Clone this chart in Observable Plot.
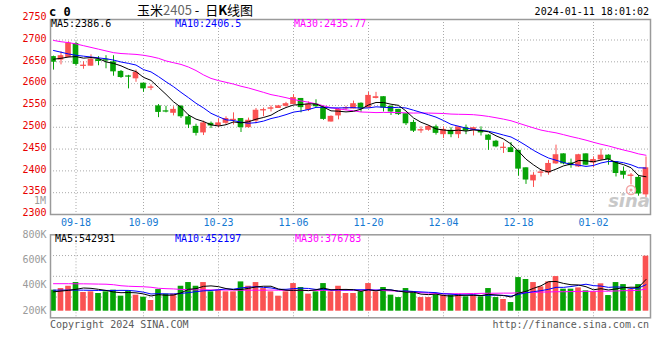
<!DOCTYPE html>
<html><head><meta charset="utf-8">
<script src="https://cdn.jsdelivr.net/npm/d3@7"></script>
<script src="https://cdn.jsdelivr.net/npm/@observablehq/plot@0.6"></script>
<style>
body{margin:0;background:#fff;}
#chart{position:relative;width:660px;height:360px;overflow:hidden;background:#fff;}
#chart svg{position:absolute;left:0;top:0;}
</style></head><body><div id="chart"></div>
<script>
// ---- data ----
const dates = ["09-13","09-14","09-15","09-18","09-19","09-20","09-21","09-22","09-25","09-26","09-27","09-28",
"10-09","10-10","10-11","10-12","10-13","10-16","10-17","10-18","10-19","10-20","10-23","10-24","10-25","10-26","10-27",
"10-30","10-31","11-01","11-02","11-03","11-06","11-07","11-08","11-09","11-10","11-13","11-14","11-15","11-16","11-17",
"11-20","11-21","11-22","11-23","11-24","11-27","11-28","11-29","11-30","12-01","12-04","12-05","12-06","12-07","12-08",
"12-11","12-12","12-13","12-14","12-15","12-18","12-19","12-20","12-21","12-22","12-25","12-26","12-27","12-28","12-29",
"01-02","01-03","01-04","01-05","01-08","01-09","01-10","01-11"];
const open = [2662,2654,2660,2692,2640,2640,2655,2656,2650,2628,2618,2611,2601,2590,2549,2538,2532,2548,2524,2502,
2487,2509,2503,2509,2516,2520,2499,2514,2538,2542,2543,2548,2552,2566,2539,2553,2546,2512,2526,2542,
2542,2555,2544,2566,2570,2548,2541,2531,2511,2492,2493,2501,2483,2493,2483,2499,2493,2493,2482,2468,
2452,2453,2447,2407,2377,2395,2395,2416,2439,2418,2409,2439,2418,2425,2436,2421,2399,2388,2385,2345];
const high = [2663,2673,2696,2695,2650,2666,2662,2664,2664,2630,2619,2631,2601,2597,2552,2548,2547,2550,2528,2507,
2514,2512,2519,2524,2533,2520,2521,2543,2544,2549,2550,2557,2575,2566,2558,2563,2547,2526,2543,2548,
2560,2556,2580,2580,2570,2549,2541,2531,2516,2501,2504,2505,2501,2499,2502,2505,2500,2501,2483,2470,
2464,2465,2447,2407,2396,2404,2424,2459,2439,2427,2438,2439,2432,2450,2437,2421,2409,2394,2390,2432];
const low = [2631,2643,2659,2640,2633,2640,2641,2634,2617,2612,2588,2603,2580,2584,2522,2533,2526,2520,2497,2480,
2481,2497,2499,2505,2505,2488,2498,2508,2524,2535,2543,2546,2552,2533,2536,2545,2516,2512,2517,2538,
2542,2534,2544,2565,2535,2527,2527,2504,2488,2486,2491,2482,2474,2476,2474,2483,2480,2480,2447,2453,
2440,2442,2388,2369,2362,2386,2390,2415,2414,2406,2408,2412,2407,2423,2413,2386,2381,2368,2342,2338];
const close = [2649,2664,2693,2644,2642,2656,2653,2654,2627,2614,2617,2626,2588,2592,2534,2537,2541,2524,2505,2486,
2510,2503,2510,2520,2518,2499,2516,2539,2540,2544,2549,2554,2568,2545,2553,2547,2518,2525,2541,2545,
2554,2542,2573,2570,2544,2535,2529,2508,2491,2494,2502,2486,2495,2483,2501,2491,2499,2487,2470,2455,
2454,2442,2404,2379,2390,2397,2417,2437,2416,2412,2437,2413,2426,2436,2426,2394,2390,2390,2347,2407];
const ma5 = [2656,2658,2661,2662,2658.4,2659.8,2657.6,2649.8,2646.4,2640.8,2633,2627.6,2614.4,2607.4,2591.4,2575.4,2558.4,2545.6,2528.2,2518.6,
2513.2,2505.6,2502.8,2505.8,2512.2,2510,2512.6,2518.4,2522.4,2527.6,2537.6,2545.2,2551,2552,2553.8,2553.4,2546.2,2537.6,2536.8,2535.2,
2536.6,2541.4,2551,2556.8,2556.6,2552.8,2550.2,2537.2,2521.4,2511.4,2504.8,2496.2,2493.6,2492,2493.4,2491.2,2493.8,2492.2,2489.6,2480.4,
2473,2461.6,2445,2426.8,2413.8,2402.4,2397.4,2404,2411.4,2415.8,2423.8,2423,2420.8,2424.8,2427.6,2419,2414.4,2407.2,2389.4,2386.6];
const ma10 = [2676,2672,2668,2665,2663,2661,2659,2657,2654,2649.6,2646.4,2642.6,2632.1,2626.9,2616.1,2604.2,2593,2580,2567.8,2555,
2544.3,2532,2524.2,2517,2515.4,2511.6,2509.1,2510.6,2514.1,2519.9,2523.8,2528.9,2534.7,2537.2,2540.7,2545.5,2545.7,2544.3,2544.4,2544.5,
2545,2543.8,2544.3,2546.8,2545.9,2544.7,2545.8,2544.1,2539.1,2534,2528.8,2523.2,2515.4,2506.7,2502.4,2498,2495,2492.9,2490.8,2486.9,
2482.1,2477.7,2468.6,2458.2,2447.1,2437.7,2429.5,2424.5,2419.1,2414.8,2413.1,2410.2,2412.4,2418.1,2421.7,2421.4,2418.7,2414,2407.1,2406.5];
const ma30 = [2699,2696,2694,2691,2687,2683,2679,2675,2671,2669,2668,2667,2665,2662,2658,2652,2648,2644,2638,2630,
2620,2612,2607,2603,2599,2594,2590,2585,2580,2574.8,2571.5,2567.8,2563.6,2560.3,2557.4,2553.7,2549.2,2544.9,2542.1,2539.8,
2537.7,2534.9,2534.4,2533.6,2534,2533.9,2533.5,2533,2532.5,2532.8,2532.5,2532,2531.5,2530.2,2529.7,2529.4,2528.8,2527.1,2524.8,2521.8,
2518.6,2514.9,2509.4,2503.9,2498.5,2493.5,2490.1,2487.2,2483,2478.6,2474.7,2470.4,2465.5,2461,2457.1,2452.4,2447.8,2443.8,2439,2435.77];
// volume, in thousands, as read against the panel's own axis
const volumeK = [365,378,396,425,347,352,339,352,365,318,360,326,310,284,370,334,334,396,425,396,
425,352,365,352,352,430,396,425,378,352,318,352,417,386,334,352,417,352,396,339,
339,352,417,352,386,326,307,378,352,307,307,326,326,326,334,313,326,313,378,307,
292,268,464,449,425,391,430,472,373,373,383,360,352,415,323,425,409,370,409,632];
const volMa5 = [352,358,364,372,382.2,379.6,371.8,363,351,345.2,346.8,344.2,335.8,319.6,330,324.8,326.4,343.6,371.8,377,
395.2,398.8,392.6,378,369.2,370.2,379,391,396.2,396.2,373.8,365,363.4,365,361.4,368.2,381.2,368.2,370.2,371.2,
368.6,355.6,368.6,359.8,369.2,366.6,357.6,349.8,349.8,334,330.2,334,323.6,318.4,323.8,325,325,322.4,332.8,327.4,
323.2,311.6,341.8,356,379.6,399.4,431.8,433.4,418.2,407.8,406.2,392.2,368.2,376.6,366.6,375,384.8,388.4,387.2,449];
const volMa10 = [365,366,366,366,365,364,363,363,363,363.7,363.2,358,349.4,335.3,337.6,335.8,335.3,339.7,345.7,353.5,
360,362.6,368.1,374.9,373.1,382.7,388.9,391.8,387.1,382.7,372,372,377.2,380.6,378.8,371,373.1,365.8,367.6,366.3,
368.4,368.4,368.4,365,370.2,367.6,356.6,359.2,354.8,351.6,348.4,345.8,336.7,334.1,328.9,327.6,329.5,323,325.6,325.6,
324.1,318.3,332.1,344.4,353.5,361.3,371.7,387.6,387.1,393.7,402.8,412,400.8,397.4,387.2,390.6,388.5,378.3,381.9,408.2];
const volMa30 = [416,416,416,415,415,414,413,412,408,400,396,394,392,388,380,377,375,371,369,368,
368,367,367,366,366,365,365,365,365,366,365,364,364,363,363,363,364,364,365,365,
364,364,366,366,362,360,357,354,350,346,342,340,338,337,337,338,339,340,341,341,
342,342,344,346,348,350,351,353,353,354,355,356,356,357,357,359,361,362,364,374];
const priceTicks = [2300,2350,2400,2450,2500,2550,2600,2650,2700,2750];
const volTicks = [200,400,600,800];          // labelled "200K" ... "800K"
const volumeBase = 200;                       // bars rise from the axis' bottom label
const xTickLabels = ["09-18","10-09","10-23","11-06","11-20","12-04","12-18","01-02"];
const titleCode = "c 0";
const titleName = ["玉米","2405","\u00a0-\u00a0\u00a0日","K","线图"];
const stamp = "2024-01-11 18:01:02";
const priceMaText = ["MA5:2386.6","MA10:2406.5","MA30:2435.77"];
const volMaText = ["MA5:542931","MA10:452197","MA30:376783"];
const footLeft = "Copyright 2024 SINA.COM";
const footRight = "http://finance.sina.com.cn";

// ---- build ----
const RED = "#fa5252", GREEN = "#06a306";
const C5 = "#000000", C10 = "#0000ff", C30 = "#ff00ff";
const rows = dates.map((d, i) => ({
  i, o: open[i], h: high[i], l: low[i], c: close[i], v: volumeK[i],
  col: close[i] >= open[i] ? RED : GREEN,
  m5: ma5[i], m10: ma10[i], m30: ma30[i], vm5: volMa5[i], vm10: volMa10[i], vm30: volMa30[i]
}));
const tickIdx = xTickLabels.map(t => dates.indexOf(t));
const half = 0.375;
const MONO = "'DejaVu Sans Mono', monospace";
const common = {
  width: 660, height: 360, marginLeft: 50, marginRight: 10,
  style: {background: "none", fontFamily: MONO, fontSize: "10px", overflow: "visible"},
  x: {type: "linear", domain: [-0.4, dates.length - 0.4], axis: null},
  color: {type: "identity"}
};
const grid = {stroke: "#a9a9a9", strokeOpacity: 1, strokeDasharray: "1,2", strokeWidth: 1};
const priceDomain = [2300, 2747];

const pricePlot = Plot.plot({
  ...common, marginTop: 19, marginBottom: 146,
  y: {domain: priceDomain, axis: null},
  marks: [
    Plot.gridY(priceTicks.filter(t => t > priceDomain[0] && t < priceDomain[1]), grid),
    Plot.gridX(tickIdx, grid),
    Plot.axisY(priceTicks, {label: null, tickSize: 0, tickPadding: 4, tickFormat: d3.format("d"), fill: "#e80000", dy: -1.5}),
    Plot.axisX(tickIdx, {label: null, tickSize: 0, tickPadding: 4, tickFormat: i => dates[i], fill: "#1478d2"}),
    Plot.ruleX(rows, {x: "i", y1: "l", y2: "h", stroke: "col", strokeWidth: 1}),
    Plot.rect(rows, {x1: d => d.i - half, x2: d => d.i + half, y1: "o", y2: "c", fill: "col"}),
    Plot.ruleY(rows, {filter: d => Math.abs(d.o - d.c) < 3, y: "c", x1: d => d.i - half, x2: d => d.i + half, stroke: "col", strokeWidth: 1}),
    Plot.line(rows, {x: "i", y: "m30", stroke: C30, strokeWidth: 1}),
    Plot.line(rows, {x: "i", y: "m10", stroke: C10, strokeWidth: 1}),
    Plot.line(rows, {x: "i", y: "m5", stroke: C5, strokeWidth: 1}),
    Plot.frame({stroke: "#9a9a9a", strokeWidth: 1.5})
  ]
});

const volDomain = [148.2, 800];
const volGrid = d3.range(1, 4).map(k => volDomain[1] - k * (volDomain[1] - volDomain[0]) / 4);
const volPlot = Plot.plot({
  ...common, marginTop: 234.3, marginBottom: 42.7,
  y: {domain: volDomain, axis: null},
  marks: [
    Plot.gridY(volGrid, grid),
    Plot.gridX(tickIdx, grid),
    Plot.axisY(volTicks, {label: null, tickSize: 0, tickPadding: 4, tickFormat: d => d + "K", fill: "#9a9a9a", dy: -0.5}),
    Plot.rect(rows, {x1: d => d.i - half, x2: d => d.i + half, y1: volumeBase, y2: "v", fill: "col"}),
    Plot.line(rows, {x: "i", y: "vm30", stroke: C30, strokeWidth: 1}),
    Plot.line(rows, {x: "i", y: "vm10", stroke: C10, strokeWidth: 1}),
    Plot.line(rows, {x: "i", y: "vm5", stroke: C5, strokeWidth: 1}),
    Plot.frame({stroke: "#9a9a9a", strokeWidth: 1.5})
  ]
});

const chart = document.getElementById("chart");
chart.appendChild(pricePlot);
chart.appendChild(volPlot);

// ---- overlay texts ----
const ov = d3.create("svg").attr("width", 660).attr("height", 360)
  .style("font-family", MONO).style("font-size", "10px");
function txt(s, x, y, o = {}) {
  return ov.append("text").attr("x", x).attr("y", y).attr("text-anchor", o.anchor || "start")
    .attr("fill", o.fill || "#000").style("font-size", o.size || "10px")
    .style("font-weight", o.weight || "normal").style("font-family", o.family || MONO)
    .style("font-style", o.italic ? "italic" : "normal").text(s);
}
txt(titleCode, 49, 15.5, {weight: "bold", size: "12px"});
const t = ov.append("text").attr("x", 137).attr("y", 15)
  .style("font-family", "'Noto Sans CJK SC', sans-serif").style("font-size", "13px");
const tcol = ["#000", "#666", "#000", "#000", "#000"];
titleName.forEach((s, k) => t.append("tspan").attr("fill", tcol[k]).style("font-weight", k === 3 ? "bold" : "normal").text(s));
txt(stamp, 649, 15, {anchor: "end"});
const maX = [51, 175, 294], maC = [C5, C10, C30];
priceMaText.forEach((s, k) => txt(s, maX[k], 27, {fill: maC[k]}));
const vmX = [55, 175, 295];
volMaText.forEach((s, k) => txt(s, vmX[k], 241.5, {fill: maC[k]}));
txt("1M", 46, 204, {anchor: "end", fill: "#9a9a9a"});
txt(footLeft, 50, 328, {fill: "#5a5a5a"});
txt(footRight, 649, 328, {anchor: "end", fill: "#5a5a5a"});
// watermark
ov.append("circle").attr("cx", 631).attr("cy", 190).attr("r", 4.5).attr("fill", "none").attr("stroke", "#f3a6a6").attr("stroke-width", 1.5);
ov.append("circle").attr("cx", 631).attr("cy", 190).attr("r", 1.5).attr("fill", "#f3a6a6");
txt("sina", 650, 207, {anchor: "end", fill: "#c8c8c8", size: "18px", weight: "bold", italic: true, family: "'DejaVu Sans', sans-serif"});
chart.appendChild(ov.node());
</script></body></html>
